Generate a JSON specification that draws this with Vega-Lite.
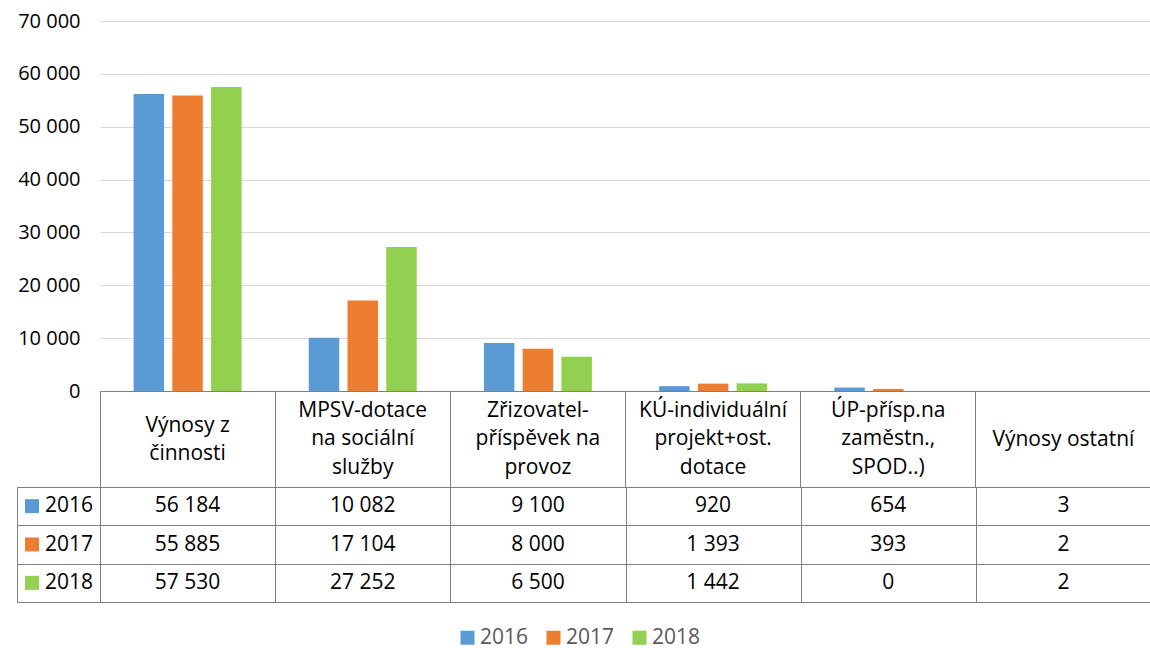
{
  "$schema": "https://vega.github.io/schema/vega-lite/v6.json",
  "padding": {"left": 16, "top": 11, "right": 0, "bottom": 0},
  "background": "white",
  "config": {
    "font": "Open Sans",
    "locale": {"number": {"decimal": ",", "thousands": " ", "grouping": [3], "currency": ["", " Kč"]}},
    "view": {"stroke": null}
  },
  "datasets": {
    "d": [
      {"cat": "Výnosy z činnosti", "year": "2016", "value": 56184},
      {"cat": "Výnosy z činnosti", "year": "2017", "value": 55885},
      {"cat": "Výnosy z činnosti", "year": "2018", "value": 57530},
      {"cat": "MPSV-dotace na sociální služby", "year": "2016", "value": 10082},
      {"cat": "MPSV-dotace na sociální služby", "year": "2017", "value": 17104},
      {"cat": "MPSV-dotace na sociální služby", "year": "2018", "value": 27252},
      {"cat": "Zřizovatel-příspěvek na provoz", "year": "2016", "value": 9100},
      {"cat": "Zřizovatel-příspěvek na provoz", "year": "2017", "value": 8000},
      {"cat": "Zřizovatel-příspěvek na provoz", "year": "2018", "value": 6500},
      {"cat": "KÚ-individuální projekt+ost. dotace", "year": "2016", "value": 920},
      {"cat": "KÚ-individuální projekt+ost. dotace", "year": "2017", "value": 1393},
      {"cat": "KÚ-individuální projekt+ost. dotace", "year": "2018", "value": 1442},
      {"cat": "ÚP-přísp.na zaměstn., SPOD..)", "year": "2016", "value": 654},
      {"cat": "ÚP-přísp.na zaměstn., SPOD..)", "year": "2017", "value": 393},
      {"cat": "ÚP-přísp.na zaměstn., SPOD..)", "year": "2018", "value": 0},
      {"cat": "Výnosy ostatní", "year": "2016", "value": 3},
      {"cat": "Výnosy ostatní", "year": "2017", "value": 2},
      {"cat": "Výnosy ostatní", "year": "2018", "value": 2}
    ],
    "years": [
      {"year": "2016"},
      {"year": "2017"},
      {"year": "2018"}
    ]
  },
  "resolve": {
    "scale": {"x": "independent", "y": "independent", "color": "independent"},
    "legend": {"color": "independent"}
  },
  "columns": 2,
  "bounds": "flush",
  "spacing": {"row": 96, "column": 0},
  "concat": [
    {
      "width": 83,
      "height": 370,
      "data": {"values": [{}]},
      "mark": {"type": "text"},
      "encoding": {"text": {"value": ""}}
    },
    {
      "width": 1051,
      "height": 370,
      "data": {"name": "d"},
      "mark": {"type": "bar"},
      "encoding": {
        "x": {
          "field": "cat",
          "type": "nominal",
          "sort": ["Výnosy z činnosti", "MPSV-dotace na sociální služby", "Zřizovatel-příspěvek na provoz", "KÚ-individuální projekt+ost. dotace", "ÚP-přísp.na zaměstn., SPOD..)", "Výnosy ostatní"],
          "scale": {"paddingInner": 0, "paddingOuter": 0},
          "axis": {
            "title": null,
            "domain": true,
            "domainColor": "#7f7f7f",
            "domainWidth": 1,
            "ticks": true,
            "tickSize": 96,
            "tickColor": "#7f7f7f",
            "tickWidth": 1,
            "bandPosition": 0,
            "grid": false,
            "labelExpr": "datum.value == 'Výnosy z činnosti' ? ['Výnosy z', 'činnosti'] : datum.value == 'MPSV-dotace na sociální služby' ? ['MPSV-dotace', 'na sociální', 'služby'] : datum.value == 'Zřizovatel-příspěvek na provoz' ? ['Zřizovatel-', 'příspěvek na', 'provoz'] : datum.value == 'KÚ-individuální projekt+ost. dotace' ? ['KÚ-individuální', 'projekt+ost.', 'dotace'] : datum.value == 'ÚP-přísp.na zaměstn., SPOD..)' ? ['ÚP-přísp.na', 'zaměstn.,', 'SPOD..)'] : datum.value",
            "labelAngle": 0,
            "labelAlign": "center",
            "labelFontSize": 21,
            "labelColor": "#000000",
            "labelLineHeight": 28.5,
            "labelBaseline": "middle",
            "labelPadding": {
              "condition": [
                {"test": "datum.value == 'Výnosy ostatní'", "value": -48},
                {"test": "datum.value == 'Výnosy z činnosti'", "value": -62}
              ],
              "value": -77
            },
            "labelOverlap": false,
            "labelLimit": 0,
            "labelBound": false,
            "labelFlush": false,
            "zindex": 1
          }
        },
        "xOffset": {
          "field": "year",
          "type": "nominal",
          "scale": {"paddingInner": 0.213, "paddingOuter": 0.867}
        },
        "y": {
          "field": "value",
          "type": "quantitative",
          "scale": {"domain": [0, 70000], "nice": false},
          "axis": {
            "title": null,
            "values": [0, 10000, 20000, 30000, 40000, 50000, 60000, 70000],
            "format": ",d",
            "domain": false,
            "ticks": false,
            "grid": true,
            "gridColor": "#d9d9d9",
            "gridWidth": 1,
            "labelFontSize": 20,
            "labelColor": "#000000",
            "labelPadding": 20
          }
        },
        "color": {
          "field": "year",
          "type": "nominal",
          "scale": {"domain": ["2016", "2017", "2018"], "range": ["#5b9bd5", "#ed7d31", "#92d050"]},
          "legend": null
        }
      }
    },
    {
      "width": 83,
      "height": 115,
      "view": {"stroke": "#7f7f7f", "strokeWidth": 1},
      "data": {"name": "years"},
      "encoding": {
        "y": {
          "field": "year",
          "type": "nominal",
          "scale": {"paddingInner": 0, "paddingOuter": 0},
          "axis": {"title": null, "labels": false, "ticks": false, "domain": false, "grid": true, "gridColor": "#7f7f7f", "gridWidth": 1, "tickBand": "extent"}
        }
      },
      "layer": [
        {
          "mark": {"type": "square", "size": 196, "xOffset": -26.5, "opacity": 1},
          "encoding": {
            "color": {
              "field": "year",
              "type": "nominal",
              "scale": {"domain": ["2016", "2017", "2018"], "range": ["#5b9bd5", "#ed7d31", "#92d050"]},
              "legend": {
                "orient": "none",
                "legendX": 440,
                "legendY": 140,
                "direction": "horizontal",
                "title": null,
                "symbolType": "square",
                "symbolSize": 196,
                "symbolOpacity": 1,
                "symbolStrokeWidth": 0,
                "labelFontSize": 21,
                "labelColor": "#595959",
                "labelOffset": 2,
                "columnPadding": 14
              }
            }
          }
        },
        {
          "mark": {"type": "text", "align": "left", "dx": -13.5, "fontSize": 21, "color": "#000000"},
          "encoding": {"text": {"field": "year", "type": "nominal"}}
        }
      ]
    },
    {
      "width": 1051,
      "height": 115,
      "view": {"stroke": "#7f7f7f", "strokeWidth": 1},
      "data": {"name": "d"},
      "mark": {"type": "text", "fontSize": 21, "color": "#000000"},
      "encoding": {
        "x": {
          "field": "cat",
          "type": "nominal",
          "sort": ["Výnosy z činnosti", "MPSV-dotace na sociální služby", "Zřizovatel-příspěvek na provoz", "KÚ-individuální projekt+ost. dotace", "ÚP-přísp.na zaměstn., SPOD..)", "Výnosy ostatní"],
          "scale": {"paddingInner": 0, "paddingOuter": 0},
          "axis": {"title": null, "labels": false, "ticks": false, "domain": false, "grid": true, "gridColor": "#7f7f7f", "gridWidth": 1, "tickBand": "extent"}
        },
        "y": {
          "field": "year",
          "type": "nominal",
          "scale": {"paddingInner": 0, "paddingOuter": 0},
          "axis": {"title": null, "labels": false, "ticks": false, "domain": false, "grid": true, "gridColor": "#7f7f7f", "gridWidth": 1, "tickBand": "extent"}
        },
        "text": {"field": "value", "type": "quantitative", "format": ",d"}
      }
    }
  ]
}
